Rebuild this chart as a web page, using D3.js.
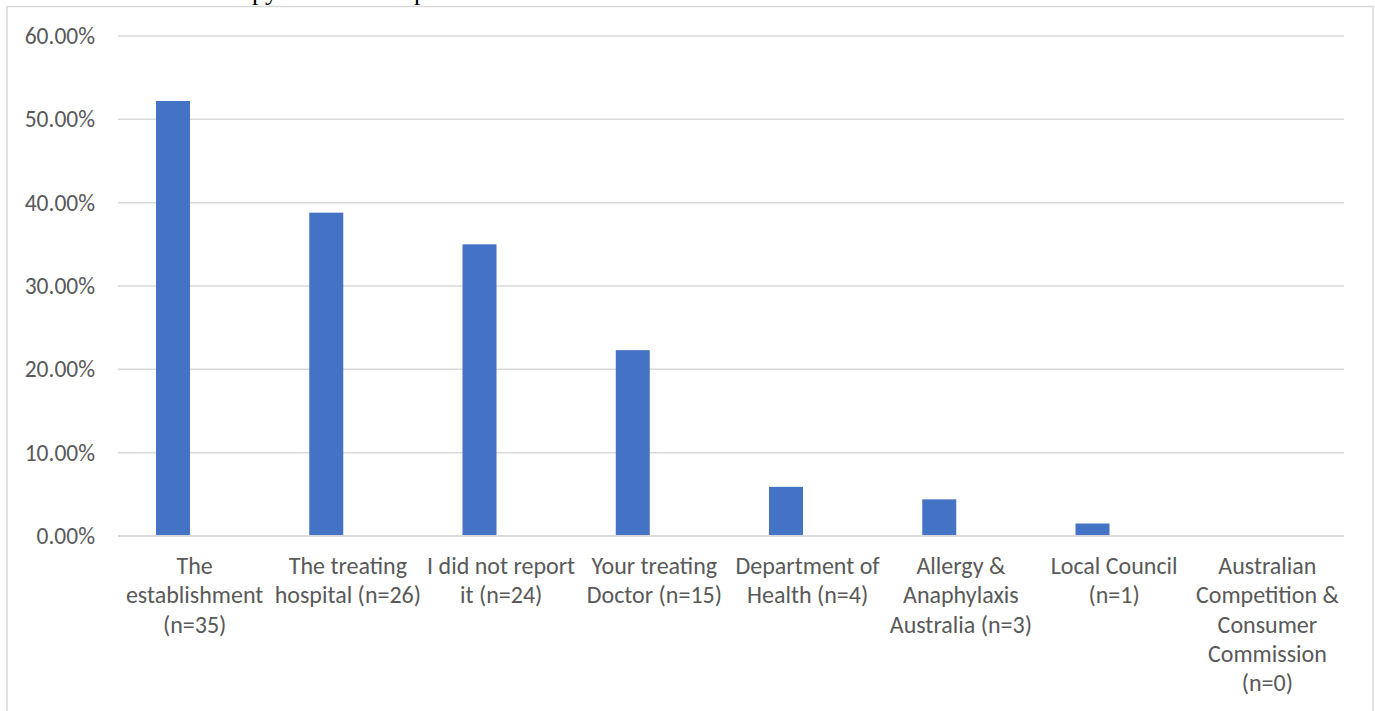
<!DOCTYPE html>
<html>
<head>
<meta charset="utf-8">
<script src="https://cdn.jsdelivr.net/npm/d3@7"></script>
<style>
  html, body { margin: 0; padding: 0; background: #fff; }
  svg { display: block; }
</style>
</head>
<body>
<svg id="chart" width="1375" height="711"></svg>
<script>
// Where respondents reported the incident (share of respondents)
const categories = [
  ["The", "establishment", "(n=35)"],
  ["The treating", "hospital (n=26)"],
  ["I did not report", "it (n=24)"],
  ["Your treating", "Doctor (n=15)"],
  ["Department of", "Health (n=4)"],
  ["Allergy &", "Anaphylaxis", "Australia (n=3)"],
  ["Local Council", "(n=1)"],
  ["Australian", "Competition &", "Consumer", "Commission", "(n=0)"]
];
const values = [52.2, 38.8, 35.0, 22.3, 5.9, 4.4, 1.5, 0];
const yTicks = [0, 10, 20, 30, 40, 50, 60];

const FONT = "Carlito, Lato, 'Open Sans', sans-serif";
const TEXT = "#595959";
const GRID = "#d9d9d9";
const BAR = "#4472C4";

const svg = d3.select("#chart");

// caption line of the surrounding page, mostly cut off by the top edge
const cap = svg.append("g")
  .attr("font-family", "'Liberation Serif', 'Times New Roman', serif")
  .attr("font-size", 26).attr("fill", "#000");
cap.append("text").attr("x", 252).attr("y", 0).text("py");
cap.append("text").attr("x", 414).attr("y", 0).text("p");

// chart frame
svg.append("rect")
  .attr("x", 7).attr("y", 6.5).attr("width", 1366).attr("height", 720)
  .attr("fill", "none").attr("stroke", GRID).attr("stroke-width", 1.5);

const plot = { left: 118, right: 1344, top: 36, bottom: 536 };

const x = d3.scaleBand()
  .domain(d3.range(categories.length))
  .range([plot.left, plot.right])
  .padding(0);

const y = d3.scaleLinear().domain([0, 60]).range([plot.bottom, plot.top]);

// gridlines
svg.append("g")
  .selectAll("line")
  .data(yTicks.filter(t => t > 0))
  .join("line")
  .attr("x1", plot.left).attr("x2", plot.right)
  .attr("y1", d => y(d)).attr("y2", d => y(d))
  .attr("stroke", GRID).attr("stroke-width", 1.5);

// y axis labels
const yAxis = d3.axisLeft(y).tickValues(yTicks)
  .tickFormat(d => d.toFixed(2) + "%").tickSize(0).tickPadding(0);
const ya = svg.append("g").attr("transform", `translate(95,0)`).call(yAxis);
ya.select(".domain").remove();
ya.selectAll("text")
  .attr("font-family", FONT).attr("font-size", 23.5).attr("fill", TEXT)
  .attr("dy", "0.32em");

// bars (first series of a two-slot cluster)
const slot = d3.scaleBand().domain(["a", "b"]).range([0, x.bandwidth()])
  .paddingInner(0.214).paddingOuter(0.879);

svg.append("g")
  .selectAll("rect")
  .data(values)
  .join("rect")
  .attr("x", (d, i) => x(i) + slot("a"))
  .attr("width", slot.bandwidth())
  .attr("y", d => y(d))
  .attr("height", d => y(0) - y(d))
  .attr("fill", BAR);

// category axis line
svg.append("line")
  .attr("x1", plot.left).attr("x2", plot.right)
  .attr("y1", y(0)).attr("y2", y(0))
  .attr("stroke", GRID).attr("stroke-width", 2);

// category labels
const xl = svg.append("g")
  .attr("font-family", FONT).attr("font-size", 24).attr("fill", TEXT)
  .attr("text-anchor", "middle");
categories.forEach((lines, i) => {
  const t = xl.append("text")
    .attr("x", x(i) + x.bandwidth() / 2)
    .attr("y", 574);
  lines.forEach((ln, j) => {
    t.append("tspan")
      .attr("x", x(i) + x.bandwidth() / 2)
      .attr("y", 574 + j * 29.3)
      .text(ln);
  });
});
</script>
</body>
</html>
